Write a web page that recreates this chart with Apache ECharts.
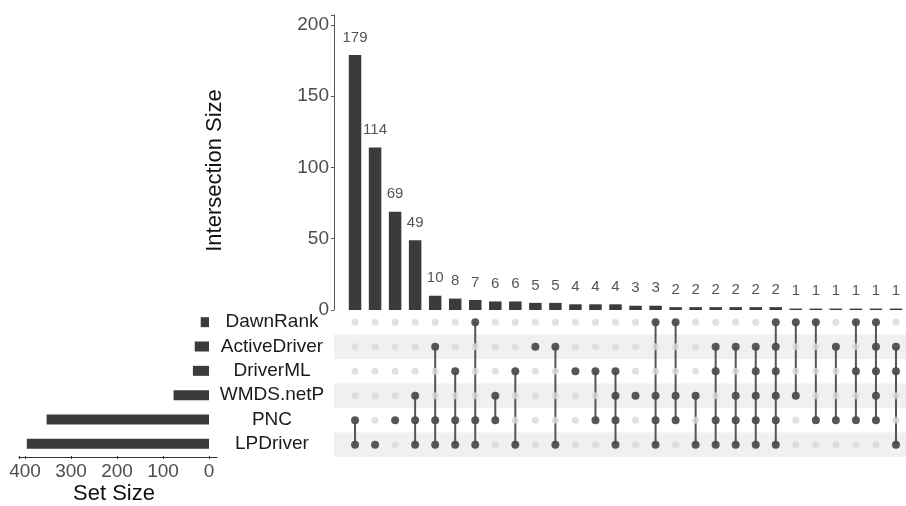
<!DOCTYPE html>
<html>
<head>
<meta charset="utf-8">
<script src="https://cdn.jsdelivr.net/npm/echarts@6/dist/echarts.min.js"></script>
<style>
  html, body { margin: 0; padding: 0; background: #fff; }
  #chart { width: 906px; height: 506px; }
</style>
</head>
<body>
<div id="chart"></div>
<script>
// sets, top to bottom in the matrix
const sets = ['DawnRank', 'ActiveDriver', 'DriverML', 'WMDS.netP', 'PNC', 'LPDriver'];
const setSizes = [18, 31, 35, 77, 353, 396];

// intersections, left to right
const intersectionSizes = [179, 114, 69, 49, 10, 8, 7, 6, 6, 5, 5, 4, 4, 4, 3, 3, 2, 2, 2, 2, 2, 2, 1, 1, 1, 1, 1, 1];
const members = [
    ['PNC', 'LPDriver'],
    ['LPDriver'],
    ['PNC'],
    ['WMDS.netP', 'PNC', 'LPDriver'],
    ['ActiveDriver', 'PNC', 'LPDriver'],
    ['DriverML', 'PNC', 'LPDriver'],
    ['DawnRank', 'PNC', 'LPDriver'],
    ['WMDS.netP', 'PNC'],
    ['DriverML', 'LPDriver'],
    ['ActiveDriver'],
    ['ActiveDriver', 'LPDriver'],
    ['DriverML'],
    ['DriverML', 'PNC'],
    ['DriverML', 'WMDS.netP', 'PNC', 'LPDriver'],
    ['WMDS.netP'],
    ['DawnRank', 'WMDS.netP', 'PNC', 'LPDriver'],
    ['DawnRank', 'WMDS.netP', 'PNC'],
    ['WMDS.netP', 'LPDriver'],
    ['ActiveDriver', 'DriverML', 'PNC', 'LPDriver'],
    ['ActiveDriver', 'WMDS.netP', 'PNC', 'LPDriver'],
    ['ActiveDriver', 'DriverML', 'WMDS.netP', 'PNC', 'LPDriver'],
    ['DawnRank', 'ActiveDriver', 'DriverML', 'WMDS.netP', 'PNC', 'LPDriver'],
    ['DawnRank', 'WMDS.netP'],
    ['DawnRank', 'PNC'],
    ['ActiveDriver', 'PNC'],
    ['DawnRank', 'DriverML', 'PNC'],
    ['DawnRank', 'ActiveDriver', 'DriverML', 'WMDS.netP', 'PNC'],
    ['ActiveDriver', 'DriverML', 'LPDriver']
];

const font = 'Liberation Sans, Arial, sans-serif';
const barColor = '#3b3b3b';

const barData = intersectionSizes.map((v, i) => [i, v]);
const emptyDots = [];
const filledDots = [];
const links = [];
members.forEach((m, i) => {
    sets.forEach((s, j) => emptyDots.push([i, j]));
    const idx = m.map(s => sets.indexOf(s));
    idx.forEach(j => filledDots.push([i, j]));
    if (idx.length > 1) links.push([i, Math.min(...idx), Math.max(...idx)]);
});

const myChart = echarts.init(document.getElementById('chart'));

const option = {
    animation: false,
    textStyle: { fontFamily: font },
    grid: [
        { left: 334, width: 573, top: 15, height: 295 },   // intersection bars
        { left: 334, width: 573, top: 310, height: 147 },  // matrix
        { left: 19, width: 190, top: 310, height: 147 },   // set size bars
        { left: 19, width: 198, top: 300, height: 157 }    // set size axis line (ggplot expansion)
    ],
    xAxis: [
        {
            gridIndex: 0, type: 'value', min: -1.05, max: 27.5,
            show: false
        },
        {
            gridIndex: 1, type: 'value', min: -1.05, max: 27.5,
            show: false
        },
        {
            gridIndex: 2, type: 'value', inverse: true, min: 0, max: 413, interval: 100,
            axisLine: { show: false },
            axisTick: { show: true, length: 3, lineStyle: { color: '#333' } },
            axisLabel: {
                color: '#4d4d4d', fontSize: 19, margin: 6,
                formatter: v => (v % 100 === 0 ? v : '')
            },
            splitLine: { show: false },
            name: 'Set Size', nameLocation: 'middle', nameGap: 27,
            nameTextStyle: { color: '#111', fontSize: 22 }
        },
        {
            gridIndex: 3, type: 'value', min: 0, max: 1,
            axisLine: { show: true, onZero: false, lineStyle: { color: '#333', width: 1 } },
            axisTick: { show: false }, axisLabel: { show: false }, splitLine: { show: false }
        }
    ],
    yAxis: [
        {
            gridIndex: 0, type: 'value', min: 0, max: 207, interval: 50,
            axisLine: { show: true, onZero: false, lineStyle: { color: '#555', width: 1 } },
            axisTick: { show: true, length: 3, lineStyle: { color: '#555' } },
            axisLabel: {
                color: '#4d4d4d', fontSize: 19, margin: 5,
                formatter: v => (v % 50 === 0 ? v : '')
            },
            splitLine: { show: false },
            name: 'Intersection Size', nameLocation: 'middle', nameGap: 108,
            nameTextStyle: { color: '#111', fontSize: 22, padding: [0, 16, 0, 0] }
        },
        {
            gridIndex: 1, type: 'category', data: sets, inverse: true,
            axisLine: { show: false }, axisTick: { show: false }, axisLabel: { show: false },
            splitLine: { show: false },
            splitArea: { show: true, areaStyle: { color: ['rgba(255,255,255,0)', '#f0f0f0'] } }
        },
        {
            gridIndex: 2, type: 'category', data: sets, inverse: true, position: 'right',
            axisLine: { show: false }, axisTick: { show: false },
            axisLabel: { color: '#1a1a1a', fontSize: 19, align: 'center', margin: 63, interval: 0 }
        },
        {
            gridIndex: 3, type: 'value', min: 0, max: 1, show: false
        }
    ],
    series: [
        {
            type: 'bar', xAxisIndex: 0, yAxisIndex: 0, data: barData,
            barWidth: 12.5, itemStyle: { color: barColor },
            label: { show: true, position: 'top', distance: 10, color: '#555', fontSize: 15 }
        },
        {
            type: 'scatter', xAxisIndex: 1, yAxisIndex: 1, data: emptyDots,
            symbolSize: 7, itemStyle: { color: '#dadada' }, silent: true
        },
        {
            type: 'custom', xAxisIndex: 1, yAxisIndex: 1, data: links,
            encode: { x: 0, y: [1, 2] },
            renderItem: (params, api) => {
                const p1 = api.coord([api.value(0), api.value(1)]);
                const p2 = api.coord([api.value(0), api.value(2)]);
                return {
                    type: 'line',
                    shape: { x1: p1[0], y1: p1[1], x2: p2[0], y2: p2[1] },
                    style: { stroke: '#555', lineWidth: 2 }
                };
            }
        },
        {
            type: 'scatter', xAxisIndex: 1, yAxisIndex: 1, data: filledDots,
            symbolSize: 8, itemStyle: { color: '#333' }, silent: true
        },
        {
            type: 'bar', xAxisIndex: 2, yAxisIndex: 2, data: setSizes,
            barWidth: 10, itemStyle: { color: barColor }
        }
    ]
};

myChart.setOption(option);
window.addEventListener('resize', () => myChart.resize());
</script>
</body>
</html>
